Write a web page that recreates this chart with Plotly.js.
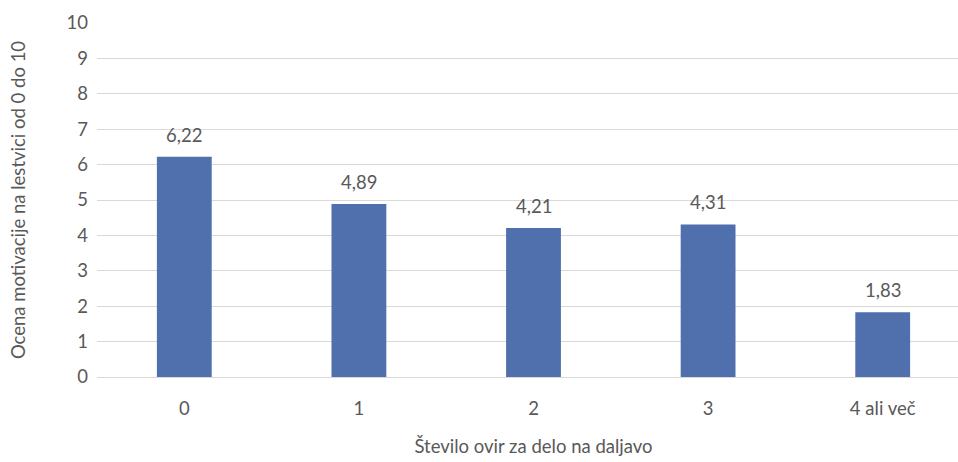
<!DOCTYPE html>
<html><head><meta charset="utf-8">
<script src="https://cdn.plot.ly/plotly-3.0.1.min.js"></script>
<style>html,body{margin:0;padding:0;background:#fff;overflow:hidden}#c{width:970px;height:462px}</style>
</head><body><div id="c"></div>
<script>
const categories = ["0", "1", "2", "3", "4 ali več"];
const values = [6.22, 4.89, 4.21, 4.31, 1.83];
const yTicks = [0,1,2,3,4,5,6,7,8,9,10];

const font = "Lato, 'Open Sans', sans-serif";
const grey = "#595959";
const fs = 18.5;

const trace = {
  type: "bar",
  x: categories,
  y: values,
  marker: {color: "#4f6fad"},
  width: 0.314,
  hoverinfo: "none"
};

const annotations = categories.map((c, i) => ({
  x: c, y: values[i], xref: "x", yref: "y",
  text: values[i].toFixed(2).replace(".", ","),
  showarrow: false, yanchor: "bottom", yshift: 9,
  font: {family: font, size: fs, color: grey}
}));

const layout = {
  width: 970, height: 462,
  margin: {l: 97, r: 0, t: 23, b: 85},
  paper_bgcolor: "#fff", plot_bgcolor: "#fff",
  showlegend: false,
  font: {family: font, size: fs, color: grey},
  xaxis: {
    type: "category",
    range: [-0.5, 4.5],
    showgrid: false, zeroline: false,
    showline: false,
    ticks: "", ticklabelstandoff: 18,
    tickfont: {family: font, size: fs, color: grey},
    title: {text: "Število ovir za delo na daljavo", font: {family: font, size: fs, color: grey}, standoff: 22}
  },
  yaxis: {
    range: [0, 10],
    tickvals: yTicks,
    showgrid: true, gridcolor: "#d9d9d9", gridwidth: 1,
    zeroline: true, zerolinecolor: "#d9d9d9", zerolinewidth: 1,
    ticks: "", ticklabelstandoff: 8,
    tickfont: {family: font, size: fs, color: grey},
    title: {text: "Ocena motivacije na lestvici od 0 do 10", font: {family: font, size: fs, color: grey}, standoff: 36}
  },
  annotations: annotations
};

Plotly.newPlot("c", [trace], layout, {staticPlot: true, displayModeBar: false});
</script></body></html>
